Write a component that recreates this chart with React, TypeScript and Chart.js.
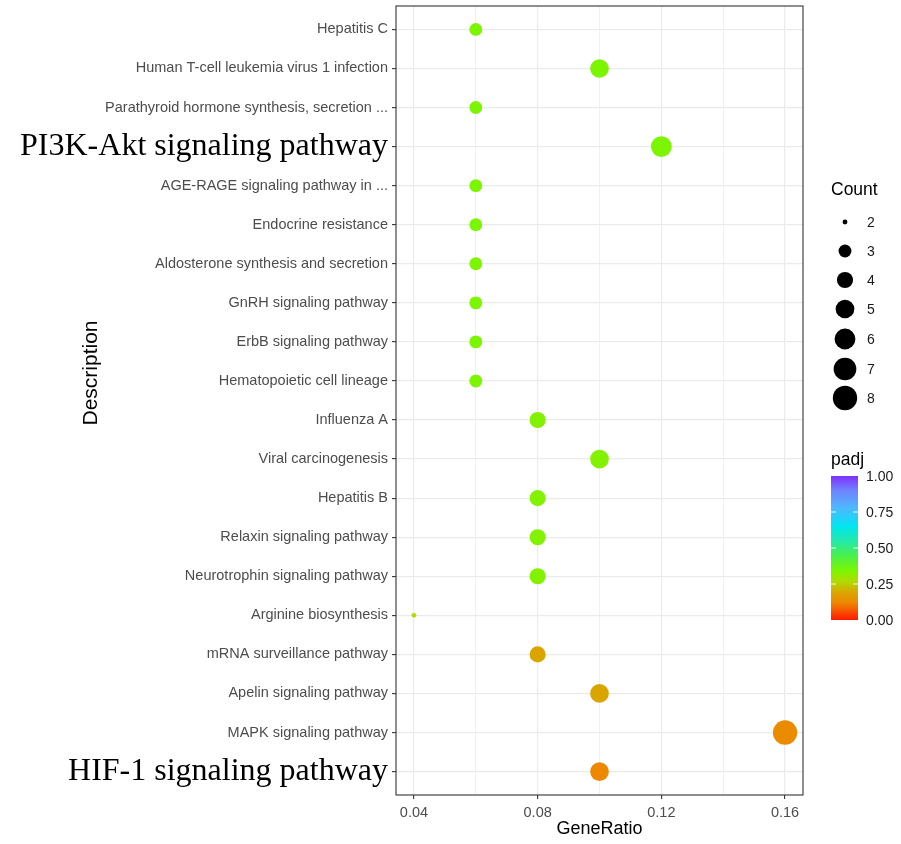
import React, { useEffect, useRef } from "react";
import { Chart, registerables } from "chart.js";

Chart.register(...registerables);

const categories = [
  "Hepatitis C",
  "Human T-cell leukemia virus 1 infection",
  "Parathyroid hormone synthesis, secretion ...",
  "PI3K-Akt signaling pathway",
  "AGE-RAGE signaling pathway in ...",
  "Endocrine resistance",
  "Aldosterone synthesis and secretion",
  "GnRH signaling pathway",
  "ErbB signaling pathway",
  "Hematopoietic cell lineage",
  "Influenza A",
  "Viral carcinogenesis",
  "Hepatitis B",
  "Relaxin signaling pathway",
  "Neurotrophin signaling pathway",
  "Arginine biosynthesis",
  "mRNA surveillance pathway",
  "Apelin signaling pathway",
  "MAPK signaling pathway",
  "HIF-1 signaling pathway",
];
const geneRatio = [0.06, 0.1, 0.06, 0.12, 0.06, 0.06, 0.06, 0.06, 0.06, 0.06, 0.08, 0.1, 0.08, 0.08, 0.08, 0.04, 0.08, 0.1, 0.16, 0.1];
const counts = [3, 5, 3, 6, 3, 3, 3, 3, 3, 3, 4, 5, 4, 4, 4, 2, 4, 5, 8, 5];
const padj = [0.34, 0.34, 0.34, 0.34, 0.34, 0.34, 0.34, 0.34, 0.34, 0.34, 0.33, 0.33, 0.33, 0.33, 0.33, 0.27, 0.19, 0.19, 0.13, 0.12];
const highlighted = ["PI3K-Akt signaling pathway", "HIF-1 signaling pathway"];
const xTicks = [0.04, 0.06, 0.08, 0.1, 0.12, 0.14, 0.16];
const xLabelTicks = [0.04, 0.08, 0.12, 0.16];
const countLegend = [2, 3, 4, 5, 6, 7, 8];
const padjTicks = [1.0, 0.75, 0.5, 0.25, 0.0];

// colour gradient for padj (style)
const STOPS: [number, string][] = [
  [0.0, "#ff1a00"],
  [0.12, "#ee8800"],
  [0.19, "#dba500"],
  [0.27, "#b0dc00"],
  [0.34, "#7cf600"],
  [0.44, "#4cf046"],
  [0.55, "#22eaaa"],
  [0.65, "#00e6f0"],
  [0.78, "#4fb8ff"],
  [0.9, "#6f82ff"],
  [1.0, "#8030ff"],
];

function hexToRgb(h: string) {
  const n = parseInt(h.slice(1), 16);
  return [(n >> 16) & 255, (n >> 8) & 255, n & 255];
}
function colorAt(v: number) {
  for (let i = 0; i < STOPS.length - 1; i++) {
    const [a, ca] = STOPS[i];
    const [b, cb] = STOPS[i + 1];
    if (v >= a && v <= b) {
      const t = (v - a) / (b - a);
      const A = hexToRgb(ca), B = hexToRgb(cb);
      const c = A.map((x, k) => Math.round(x + (B[k] - x) * t));
      return `rgb(${c[0]},${c[1]},${c[2]})`;
    }
  }
  return STOPS[STOPS.length - 1][1];
}
const cMin = Math.min(...countLegend);
const cMax = Math.max(...countLegend);
function radiusFor(c: number) {
  const size = 1 + 5 * Math.sqrt((c - cMin) / (cMax - cMin));
  return 0.5 + 1.95 * size;
}

const SANS = "'Liberation Sans', Arial, Helvetica, sans-serif";
const SERIF = "'Liberation Serif', 'Times New Roman', serif";
const noPad = () => ({ left: 0, top: 0, right: 0, bottom: 0 });

const decorPlugin = {
  id: "decor",
  afterDraw(chart: any) {
    const { ctx, chartArea } = chart;
    const { left, right, top, bottom } = chartArea;
    ctx.save();
    // panel border
    ctx.strokeStyle = "#333333";
    ctx.lineWidth = 1.1;
    ctx.strokeRect(left, top, right - left, bottom - top);

    // axis titles
    ctx.fillStyle = "#000";
    ctx.font = `18px ${SANS}`;
    ctx.textAlign = "center";
    ctx.textBaseline = "middle";
    ctx.fillText("GeneRatio", (left + right) / 2, 829);
    ctx.save();
    ctx.translate(91, 373);
    ctx.rotate(-Math.PI / 2);
    ctx.font = `21px ${SANS}`;
    ctx.fillText("Description", 0, 0);
    ctx.restore();

    // Count legend
    ctx.textAlign = "left";
    ctx.font = `17.5px ${SANS}`;
    ctx.fillText("Count", 831, 190);
    const rowY = [222, 251, 280, 309, 339, 369, 398];
    ctx.font = `14px ${SANS}`;
    countLegend.forEach((c, i) => {
      ctx.beginPath();
      ctx.fillStyle = "#000";
      ctx.arc(845, rowY[i], radiusFor(c), 0, Math.PI * 2);
      ctx.fill();
      ctx.fillStyle = "#1a1a1a";
      ctx.fillText(String(c), 867, rowY[i] + 1);
    });

    // padj colour bar
    ctx.fillStyle = "#000";
    ctx.font = `17.5px ${SANS}`;
    ctx.fillText("padj", 831, 460);
    const bx = 831, bw = 27, btop = 476, bbot = 620;
    const g = ctx.createLinearGradient(0, bbot, 0, btop);
    STOPS.forEach(([p, c]) => g.addColorStop(p, c));
    ctx.fillStyle = g;
    ctx.fillRect(bx, btop, bw, bbot - btop);
    ctx.font = `14px ${SANS}`;
    padjTicks.forEach((v) => {
      const y = bbot - v * (bbot - btop);
      ctx.strokeStyle = "rgba(255,255,255,0.9)";
      ctx.lineWidth = 1;
      if (v > 0 && v < 1) {
        ctx.beginPath();
        ctx.moveTo(bx, y);
        ctx.lineTo(bx + 5, y);
        ctx.moveTo(bx + bw - 5, y);
        ctx.lineTo(bx + bw, y);
        ctx.stroke();
      }
      ctx.fillStyle = "#1a1a1a";
      ctx.fillText(v.toFixed(2), 866, y + 1);
    });
    ctx.restore();
  },
};

export default function App() {
  const ref = useRef<HTMLCanvasElement>(null);
  useEffect(() => {
    if (!ref.current) return;
    const data = categories.map((_, i) => ({
      x: geneRatio[i],
      y: i,
      r: radiusFor(counts[i]),
    }));
    const chart = new Chart(ref.current, {
      type: "bubble",
      data: {
        datasets: [
          {
            data,
            backgroundColor: padj.map((p) => colorAt(p)),
            borderWidth: 0,
            hoverBorderWidth: 0,
          },
        ],
      },
      options: {
        animation: false,
        responsive: false,
        events: [],
        layout: { autoPadding: false, padding: { left: 0, right: 98, top: 6, bottom: 0 } },
        plugins: { legend: { display: false }, tooltip: { enabled: false } },
        scales: {
          x: {
            type: "linear",
            min: 0.0342,
            max: 0.1658,
            afterBuildTicks: (scale: any) => {
              scale.ticks = xTicks.map((v) => ({ value: v }));
            },
            afterFit: (scale: any) => {
              scale.height = 49;
              scale.paddingLeft = 0;
              scale.paddingRight = 0;
              scale.getPadding = noPad;
            },
            border: { display: false },
            grid: {
              color: "#ebebeb",
              lineWidth: (ctx: any) =>
                xLabelTicks.some((t) => Math.abs(t - ctx.tick?.value) < 1e-9) ? 1.2 : 0.7,
              tickLength: 4,
              tickColor: (ctx: any) =>
                xLabelTicks.some((t) => Math.abs(t - ctx.tick?.value) < 1e-9) ? "#333333" : "rgba(0,0,0,0)",
              tickWidth: 1.1,
            },
            ticks: {
              autoSkip: false,
              maxRotation: 0,
              padding: 5,
              color: "#4d4d4d",
              font: { family: SANS, size: 14.5 },
              callback: (v: any) => {
                const n = Number(v);
                return xLabelTicks.some((t) => Math.abs(t - n) < 1e-9) ? String(n) : "";
              },
            },
          },
          y: {
            type: "linear",
            reverse: true,
            min: -0.6,
            max: categories.length - 0.4,
            afterBuildTicks: (scale: any) => {
              scale.ticks = categories.map((_, i) => ({ value: i }));
            },
            afterFit: (scale: any) => {
              scale.width = 396;
              scale.paddingTop = 0;
              scale.paddingBottom = 0;
              scale.getPadding = noPad;
            },
            border: { display: false },
            grid: {
              color: "#ebebeb",
              lineWidth: 1.2,
              tickLength: 4,
              tickColor: "#333333",
              tickWidth: 1.1,
            },
            ticks: {
              autoSkip: false,
              padding: 4,
              color: (ctx: any) =>
                highlighted.includes(categories[ctx.index]) ? "#000000" : "#4d4d4d",
              font: (ctx: any) =>
                highlighted.includes(categories[ctx.index])
                  ? { family: SERIF, size: 32 }
                  : { family: SANS, size: 14.5 },
              callback: (v: any) => categories[Number(v)] ?? "",
            },
          },
        },
      },
      plugins: [decorPlugin],
    } as any);
    return () => chart.destroy();
  }, []);
  return (
    <div style={{ position: "absolute", left: 0, top: 0, width: 901, height: 844, background: "#fff" }}>
      <canvas ref={ref} width={901} height={844} style={{ width: 901, height: 844, display: "block" }} />
    </div>
  );
}
